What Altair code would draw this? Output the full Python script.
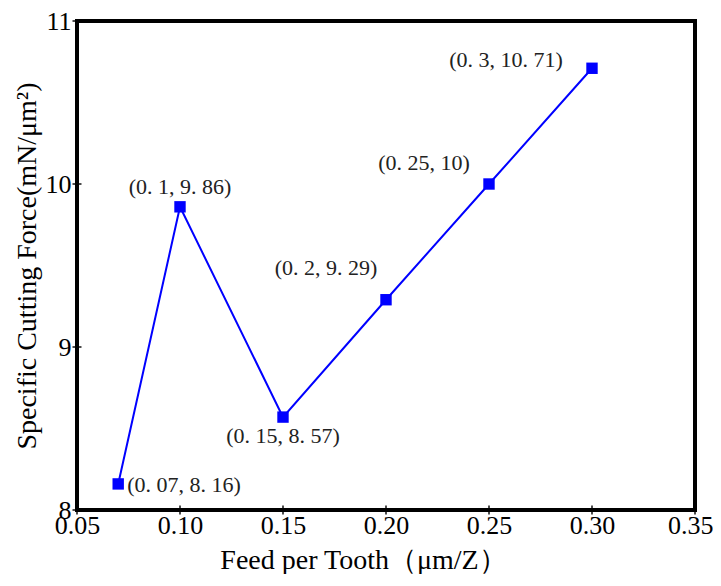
import altair as alt
import pandas as pd

feed = [0.07, 0.10, 0.15, 0.20, 0.25, 0.30]
force = [8.16, 9.86, 8.57, 9.29, 10.00, 10.71]
labels = ["(0. 07, 8. 16)", "(0. 1, 9. 86)", "(0. 15, 8. 57)",
          "(0. 2, 9. 29)", "(0. 25, 10)", "(0. 3, 10. 71)"]
x_ticks = [0.05, 0.10, 0.15, 0.20, 0.25, 0.30, 0.35]
y_ticks = [8, 9, 10, 11]

# label offsets (dx, dy, align)
offsets = [(9, 1, "left"), (0, -20, "center"), (0, 19, "center"),
           (-60, -32, "center"), (-65, -21, "center"), (-86, -8, "center")]

df = pd.DataFrame({"feed": feed, "force": force, "label": labels})
xt = pd.DataFrame({"feed": x_ticks})
yt = pd.DataFrame({"force": y_ticks})

FONT = "Liberation Serif"
W, H = 618, 489

xs = alt.Scale(domain=[0.05, 0.35], nice=False, zero=False)
ys = alt.Scale(domain=[8, 11], nice=False, zero=False)

xenc = alt.X("feed:Q", scale=xs, axis=alt.Axis(
    values=x_ticks, format=".2f", title="Feed per Tooth（μm/Z）",
    labelFont=FONT, labelFontSize=26, labelColor="black", labelPadding=2, labelFlush=False,
    labelAlign={"expr": "datum.value > 0.34 ? 'right' : 'center'"},
    labelOffset={"expr": "datum.value > 0.34 ? 18 : 0"},
    titleFont=FONT, titleFontSize=28, titleFontWeight="normal", titleColor="black",
    titlePadding=8, titleX=286, titleAnchor="middle", grid=False, domain=False, ticks=False))
yenc = alt.Y("force:Q", scale=ys, axis=alt.Axis(
    values=y_ticks, format="d", title="Specific Cutting Force(mN/μm²)",
    labelFont=FONT, labelFontSize=26, labelColor="black", labelPadding=6, labelFlush=False,
    titleFont=FONT, titleFontSize=28, titleFontWeight="normal", titleColor="black",
    titlePadding=4, grid=False, domain=False, ticks=False))

line = alt.Chart(df).mark_line(color="#0000FF", strokeWidth=2).encode(x=xenc, y=yenc)
pts = alt.Chart(df).mark_square(color="#0000FF", size=130, opacity=1).encode(x="feed:Q", y="force:Q")

xtick = alt.Chart(xt).mark_tick(color="black", size=9, thickness=2, orient="vertical").encode(
    x=alt.X("feed:Q", scale=xs), y=alt.value(H))
ytick = alt.Chart(yt).mark_tick(color="black", size=9, thickness=2, orient="horizontal").encode(
    y=alt.Y("force:Q", scale=ys), x=alt.value(0))

layers = [xtick, ytick, line, pts]
for i, (dx, dy, al) in enumerate(offsets):
    layers.append(
        alt.Chart(df.iloc[[i]]).mark_text(
            font=FONT, fontSize=22, color="#222222", dx=dx, dy=dy, align=al, baseline="middle"
        ).encode(x="feed:Q", y="force:Q", text="label:N")
    )

chart = alt.layer(*layers).properties(
    width=W, height=H,
    padding={"left": 69, "top": 13, "right": 18, "bottom": 64},
    autosize=alt.AutoSizeParams(type="none"),
).configure(background="white").configure_view(stroke="black", strokeWidth=4)

chart.save("out.html", embed_options={"renderer": "svg", "actions": False})
